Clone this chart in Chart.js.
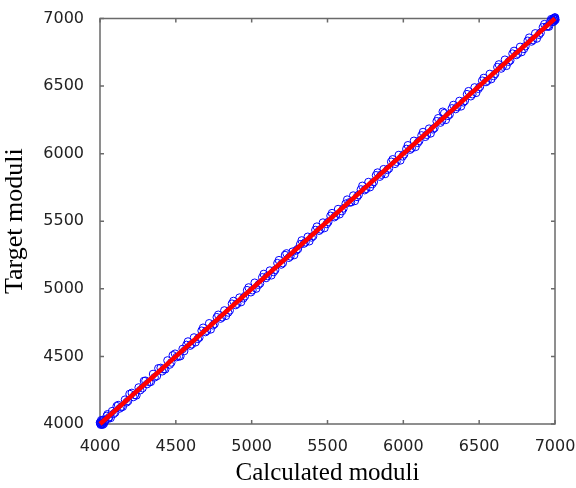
<!DOCTYPE html>
<html>
<head>
<meta charset="utf-8">
<style>
html,body{margin:0;padding:0;background:#fff;}
canvas{display:block;}
</style>
<script src="https://cdn.jsdelivr.net/npm/chart.js@4/dist/chart.umd.min.js"></script>
</head>
<body>
<canvas id="c" width="576" height="488"></canvas>
<script>
const xTitle = "Calculated moduli";
const yTitle = "Target moduli";
const tickValues = [4000, 4500, 5000, 5500, 6000, 6500, 7000];
const fitLine = [4000, 7000];

const calculated = [
4000,4005,4010,4015,4020,4030,4045,4060,4080,4100,4120,4140,4165,4185,4210,4230,4255,4280,4300,4325,
4350,4375,4400,4420,4445,4470,4495,4520,4545,4570,4595,4620,4645,4670,4695,4720,4745,4770,4795,4820,
4845,4870,4895,4920,4945,4970,4995,5020,5045,5070,5095,5120,5145,5170,5195,5220,5245,5270,5295,5320,
5345,5370,5395,5420,5445,5470,5495,5520,5545,5570,5595,5620,5645,5670,5695,5720,5745,5770,5795,5820,
5845,5870,5895,5920,5945,5970,5995,6020,6045,6070,6095,6120,6145,6170,6195,6220,6245,6270,6295,6320,
6345,6370,6395,6420,6445,6470,6495,6520,6545,6570,6595,6620,6645,6670,6695,6720,6745,6770,6795,6820,
6845,6870,6895,6920,6945,6970,6985,6990,6995,7000,
4012,4035,4055,4090,4130,4175,4220,4265,4310,4360,4410,4460,4505,4555,4605,4655,4705,4755,4805,4855,
4905,4955,5005,5055,5105,5155,5205,5255,5305,5355,5405,5455,5505,5555,5605,5655,5705,5755,5805,5855,
5905,5955,6005,6055,6105,6155,6205,6255,6305,6355,6405,6455,6505,6555,6605,6655,6705,6755,6805,6855,
6905,6955,6980,6998,
4008,4025,4050,4070,4110,4150,4195,4240,4290,4335,4385,4430,4480,4530,4580,4630,4680,4730,4780,4830,
4880,4930,4980,5030,5080,5130,5180,5230,5280,5330,5380,5430,5480,5530,5580,5630,5680,5730,5780,5830,
5880,5930,5980,6030,6080,6130,6180,6230,6260,6280,6330,6380,6430,6480,6530,6580,6630,6680,6730,6780,
6830,6880,6930,6960,6975,6992,7000,6997,4003,4002,4018,7003
];
const target = [
4010,3995,4020,4005,4030,4015,4060,4050,4095,4085,4140,4125,4180,4170,4230,4215,4270,4265,4320,4310,
4370,4355,4415,4405,4470,4455,4520,4500,4555,4585,4580,4640,4630,4690,4680,4745,4730,4790,4780,4840,
4825,4890,4880,4935,4930,4990,4975,5045,5030,5085,5080,5135,5125,5190,5180,5250,5230,5275,5285,5330,
5335,5385,5380,5435,5430,5490,5480,5540,5530,5590,5575,5630,5640,5690,5680,5735,5730,5790,5775,5840,
5830,5885,5880,5940,5925,5990,5980,6035,6030,6095,6080,6135,6125,6185,6180,6240,6230,6300,6280,6335,
6330,6390,6380,6440,6425,6490,6480,6540,6530,6590,6575,6640,6630,6695,6680,6740,6730,6790,6775,6835,
6830,6890,6880,6935,6940,6980,6975,7000,6985,6995,
3998,4025,4040,4075,4115,4160,4200,4250,4295,4345,4390,4440,4495,4540,4590,4640,4690,4740,4790,4840,
4890,4945,4990,5040,5095,5140,5190,5240,5295,5345,5390,5440,5495,5540,5595,5640,5695,5740,5790,5845,
5890,5940,5995,6040,6095,6140,6190,6245,6290,6345,6390,6440,6495,6540,6590,6645,6690,6740,6795,6840,
6895,6945,6990,7005,
4028,4002,4072,4045,4132,4128,4222,4212,4318,4312,4412,4405,4508,4502,4610,4605,4712,4700,4808,4800,
4910,4902,5010,5002,5110,5100,5212,5262,5250,5358,5352,5460,5450,5560,5552,5660,5650,5762,5752,5860,
5850,5958,5950,6062,6050,6160,6150,6262,6310,6250,6360,6350,6462,6450,6560,6552,6660,6650,6760,6752,
6858,6852,6958,6940,6995,6978,7008,7000,4002,4012,3995,6990
];

const points = calculated.map((v, i) => ({x: v, y: target[i]}));
const linePts = fitLine.map(v => ({x: v, y: v}));

const AXIS_COLOR = '#6a6a6a';

const boxPlugin = {
  id: 'boxPlugin',
  beforeDatasetsDraw(chart) {
    const {ctx, chartArea: a, scales} = chart;
    ctx.save();
    ctx.strokeStyle = AXIS_COLOR;
    ctx.lineWidth = 1.5;
    ctx.strokeRect(a.left, a.top, a.right - a.left, a.bottom - a.top);
    const tl = 4;
    ctx.beginPath();
    tickValues.forEach(v => {
      const px = scales.x.getPixelForValue(v);
      ctx.moveTo(px, a.bottom); ctx.lineTo(px, a.bottom - tl);
      ctx.moveTo(px, a.top); ctx.lineTo(px, a.top + tl);
      const py = scales.y.getPixelForValue(v);
      ctx.moveTo(a.left, py); ctx.lineTo(a.left + tl, py);
      ctx.moveTo(a.right, py); ctx.lineTo(a.right - tl, py);
    });
    ctx.stroke();
    ctx.restore();
  }
};

const plainLabel = v => String(v);

new Chart(document.getElementById('c'), {
  type: 'scatter',
  data: {
    datasets: [
      {
        type: 'line',
        data: linePts,
        borderColor: '#ff0000',
        borderWidth: 4.5,
        pointRadius: 0,
        fill: false,
        clip: false,
        order: 0
      },
      {
        type: 'scatter',
        data: points,
        pointStyle: 'circle',
        pointRadius: 3.8,
        borderColor: '#0000ff',
        borderWidth: 1,
        backgroundColor: 'rgba(0,0,0,0)',
        clip: false,
        order: 1
      }
    ]
  },
  options: {
    responsive: false,
    animation: false,
    devicePixelRatio: 1,
    layout: {padding: {top: 18.5, right: 21, left: 0, bottom: 0}},
    plugins: {legend: {display: false}, tooltip: {enabled: false}},
    scales: {
      x: {
        type: 'linear',
        min: 4000, max: 7000,
        afterBuildTicks(s) { s.ticks = tickValues.map(v => ({value: v})); },
        afterFit(s) { s.height = 64; s.paddingLeft = 0; s.paddingRight = 0; },
        grid: {display: false},
        border: {display: false},
        ticks: {
          padding: 5,
          color: '#222',
          font: {family: 'DejaVu Sans', size: 16},
          maxRotation: 0,
          callback: plainLabel
        },
        title: {
          display: true,
          text: xTitle,
          color: '#000',
          font: {family: 'Liberation Serif', size: 25},
          padding: {top: 6, bottom: 0}
        }
      },
      y: {
        type: 'linear',
        min: 4000, max: 7000,
        afterBuildTicks(s) { s.ticks = tickValues.map(v => ({value: v})); },
        afterFit(s) { s.width = 100; s.paddingTop = 0; s.paddingBottom = 0; },
        grid: {display: false},
        border: {display: false},
        ticks: {
          padding: 8,
          color: '#222',
          font: {family: 'DejaVu Sans', size: 16},
          callback: plainLabel
        },
        title: {
          display: true,
          text: yTitle,
          color: '#000',
          font: {family: 'Liberation Serif', size: 26},
          padding: {top: 0, bottom: 6}
        }
      }
    }
  },
  plugins: [boxPlugin]
});
</script>
</body>
</html>
